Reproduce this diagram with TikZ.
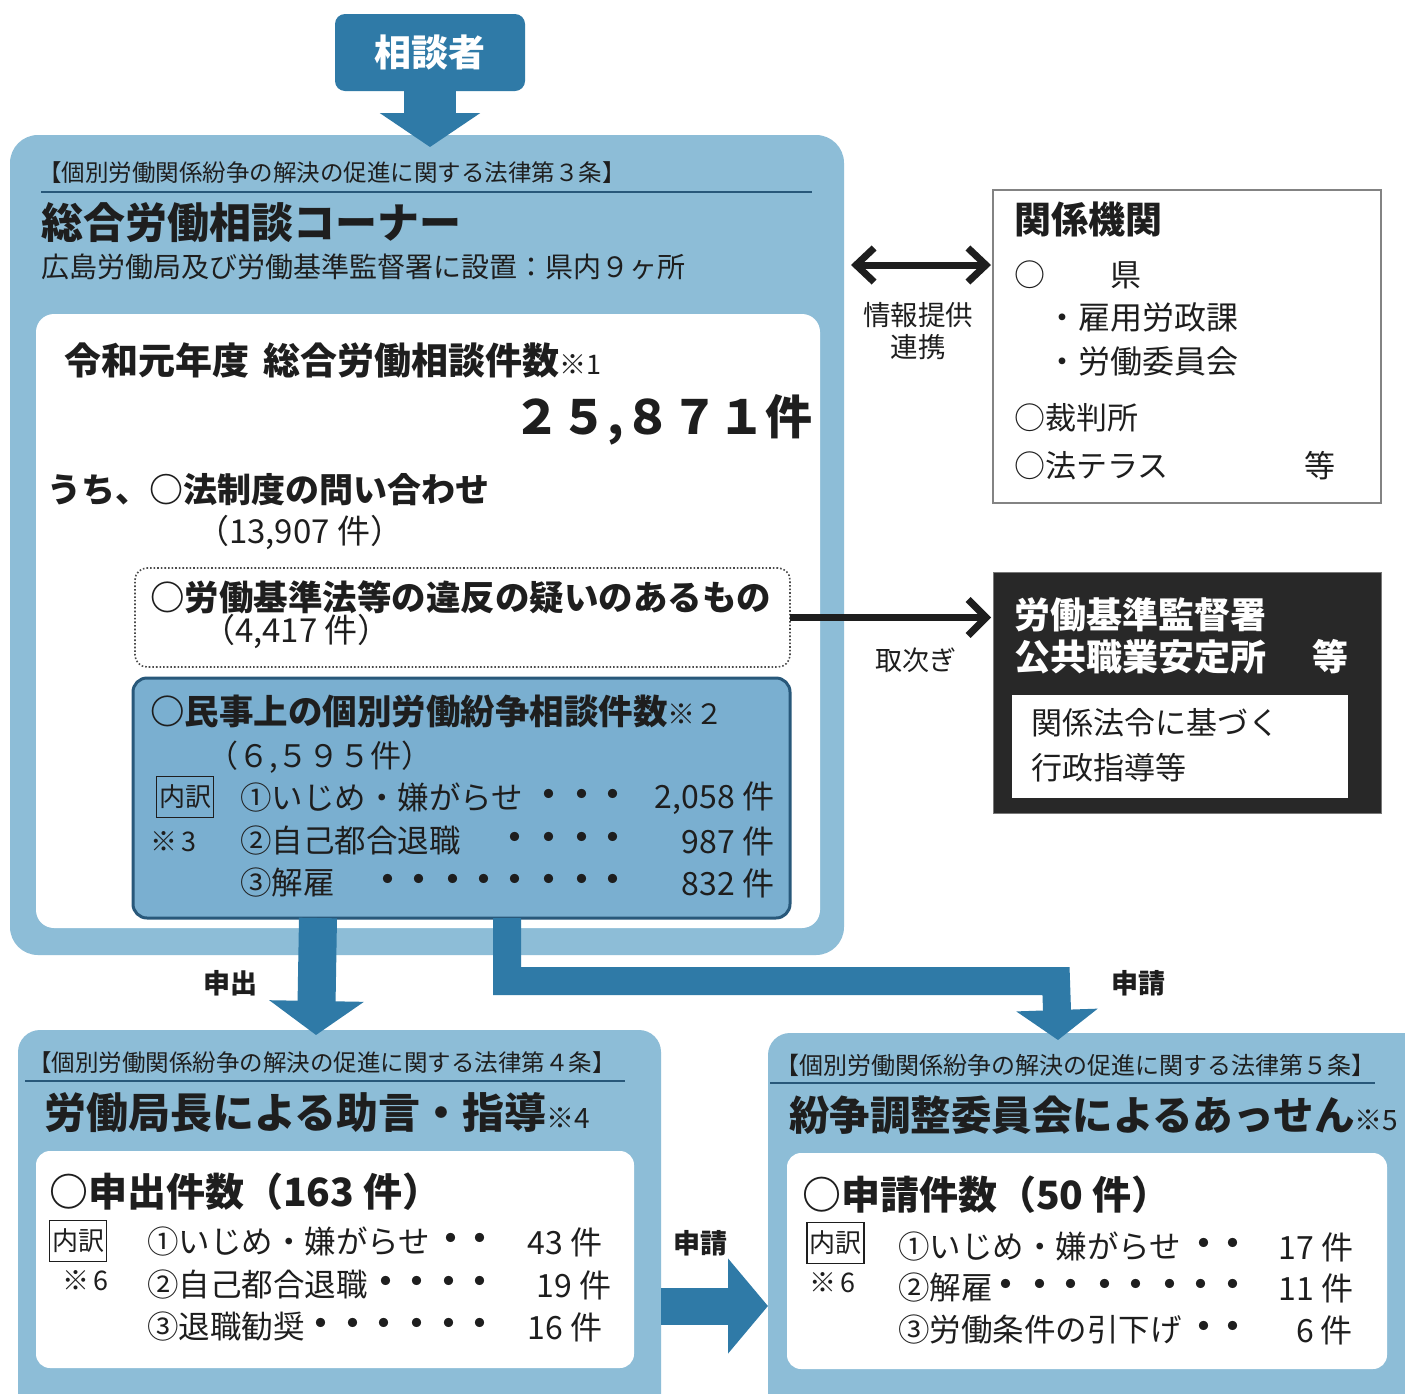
\documentclass[tikz,border=0pt]{standalone}
\usepackage{fontspec}
\setmainfont{Noto Sans CJK JP}
\usetikzlibrary{arrows.meta}
\definecolor{lblue}{RGB}{141,189,215}
\definecolor{dblue}{RGB}{47,122,167}
\definecolor{mblue}{RGB}{122,175,208}
\definecolor{mborder}{RGB}{40,88,122}
\definecolor{darkbg}{RGB}{40,40,40}
\definecolor{ink}{RGB}{30,30,30}
\newcommand\fsz[1]{\fontsize{#1}{#1}\selectfont}
\begin{document}
\begin{tikzpicture}[x=1pt,y=-1pt,
  shp/.style={inner sep=0pt, outer sep=0pt},
  tx/.style={inner sep=0pt, outer sep=0pt, anchor=west, text=ink},
  tr/.style={inner sep=0pt, outer sep=0pt, anchor=east, text=ink},
  tc/.style={inner sep=0pt, outer sep=0pt, text=ink},
  dotc/.style={inner sep=0pt, outer sep=0pt, text=ink, font={\fsz{33}\bfseries}},
  uw/.style={draw=ink, line width=1.2pt, inner sep=1pt, minimum width=57pt, minimum height=41pt, text=ink, font={\fsz{26}}},
  rule/.style={draw=mborder, line width=1.5pt},
  blockarrow/.style={draw=dblue},
  barb/.style={draw=ink, line width=7pt},
]
\useasboundingbox (0,0) rectangle (1405,1393);
\fill[white] (0,0) rectangle (1405,1393);
\clip (0,0) rectangle (1405,1393);

% ---------- top: 相談者 ----------
\node[shp, fill=dblue, rounded corners=10pt, minimum width=190pt, minimum height=77pt,
      text=white, font={\fsz{37}\bfseries}] (soudan) at (430,52.5) {相談者};

% ---------- main box ----------
\node[shp, fill=lblue, rounded corners=28pt, minimum width=834pt, minimum height=820pt] (main) at (427,545) {};
\draw[blockarrow, line width=52pt, -{Triangle[length=34pt,width=99pt]}] (soudan.south) -- (soudan.south |- 0,147);

\node[tx, font={\fsz{23.5}}] (law3) at (38,173) {【個別労働関係紛争の解決の促進に関する法律第３条】};
\draw[rule] (41,192) -- (812,192);
\node[tx, font={\fsz{42}\bfseries}] (corner) at (41,223) {総合労働相談コーナー};
\node[tx, font={\fsz{28}}] (place) at (41,267) {広島労働局及び労働基準監督署に設置：県内９ヶ所};

\node[shp, fill=white, rounded corners=18pt, minimum width=784pt, minimum height=614pt] (white1) at (428,621) {};
\node[tx, font={\fsz{37}\bfseries}] (year) at (64,360) {令和元年度\hspace{0.4em}総合労働相談件数{\mdseries\fsz{27}※1}};
\node[tr, font={\fsz{47}\bfseries}] (total) at (812,420) {２５,８７１件};
\node[tx, font={\fsz{34}\bfseries}] (uchi) at (47,490) {うち、○法制度の問い合わせ};
\node[tx, font={\fsz{33}}] (n1) at (196,532) {（13,907 件）};

\node[shp, fill=white, draw=ink!80, dotted, line width=1.6pt, rounded corners=12pt, minimum width=655pt, minimum height=99pt] (ihan) at (462.5,617.5) {};
\node[tx, font={\fsz{34.5}\bfseries}] (ihanT) at (150,597) {○労働基準法等の違反の疑いのあるもの};
\node[tx, font={\fsz{33}}] (ihanN) at (202,631) {（4,417 件）};

\node[shp, fill=mblue, draw=mborder, line width=3pt, rounded corners=14pt, minimum width=657pt, minimum height=240pt] (civil) at (461.5,798) {};
\node[tx, font={\fsz{34.5}\bfseries}] (civilT) at (150,711) {○民事上の個別労働紛争相談件数{\mdseries\fsz{28}※２}};
\node[tx, font={\fsz{31}}] (civilN) at (207,757) {（６,５９５件）};
\node[uw] (uw1) at (185,797) {内訳};
\node[tx, font={\fsz{27}}] (k3) at (150,842) {※\,3};
\node[tx, font={\fsz{31.5}}] (c1) at (240,798) {①いじめ・嫌がらせ};
\node[tx, font={\fsz{31.5}}] (c2) at (240,841) {②自己都合退職};
\node[tx, font={\fsz{31.5}}] (c3) at (240,883) {③解雇};
\foreach \x in {549,582,613} \node[dotc] at (\x,798) {・};
\foreach \x in {515,549,582,613} \node[dotc] at (\x,841) {・};
\foreach \x in {388,419,453,484,515,549,582,613} \node[dotc] at (\x,883) {・};
\node[tr, font={\fsz{32}}] (v1) at (774,798) {2,058 件};
\node[tr, font={\fsz{32}}] (v2) at (774,841) {987 件};
\node[tr, font={\fsz{32}}] (v3) at (774,883) {832 件};

% ---------- 関係機関 ----------
\node[shp, fill=white, draw=ink!55, line width=2pt, minimum width=388pt, minimum height=313pt] (kankei) at (1187,346.5) {};
\node[tx, font={\fsz{37}\bfseries}] (kkT) at (1014,219) {関係機関};
\node[tx, font={\fsz{31}}] (kk0) at (1014,275) {○};
\node[tx, font={\fsz{31}}] (kkken) at (1110,275) {県};
\node[tx, font={\fsz{32}}] (kk1) at (1046,317) {・雇用労政課};
\node[tx, font={\fsz{32}}] (kk2) at (1046,361) {・労働委員会};
\node[tx, font={\fsz{31}}] (kk3) at (1014,418) {○裁判所};
\node[tx, font={\fsz{31}}] (kk4) at (1014,466) {○法テラス};
\node[tx, font={\fsz{31}}] (kk5) at (1304,466) {等};

\draw[barb, shorten <=7pt, shorten >=2pt, {Straight Barb[length=18pt,width=34pt]}-{Straight Barb[length=18pt,width=34pt]}] (main.east |- 0,265) -- (kankei.west |- 0,265);
\node[tc, font={\fsz{27.5}}] (jt1) at (918,315) {情報提供};
\node[tc, font={\fsz{27.5}}] (jt2) at (918,347) {連携};

% ---------- 労働基準監督署 ----------
\node[shp, fill=darkbg, draw=ink!60, line width=1pt, minimum width=388pt, minimum height=241pt] (dark) at (1187,692.5) {};
\node[tx, font={\fsz{36}\bfseries}, text=white] (dk1) at (1014,615) {労働基準監督署};
\node[tx, font={\fsz{36}\bfseries}, text=white] (dk2) at (1014,657) {公共職業安定所};
\node[tx, font={\fsz{36}\bfseries}, text=white] (dk3) at (1312,657) {等};
\node[shp, fill=white, minimum width=336pt, minimum height=103pt] (darkin) at (1180,746.5) {};
\node[tx, font={\fsz{31}}] (di1) at (1031,723) {関係法令に基づく};
\node[tx, font={\fsz{31}}] (di2) at (1031,768) {行政指導等};

\draw[barb, shorten >=2pt, -{Straight Barb[length=18pt,width=36pt]}] (ihan.east) -- (dark.west |- ihan.east);
\node[tc, font={\fsz{27}}] (tori) at (916,660) {取次ぎ};

% ---------- bottom left ----------
\node[shp, fill=lblue, rounded corners=22pt, minimum width=643pt, minimum height=400pt] (bl) at (339.5,1230) {};
\node[tx, font={\fsz{23.5}}] (law4) at (28,1063) {【個別労働関係紛争の解決の促進に関する法律第４条】};
\draw[rule] (25,1081) -- (625,1081);
\node[tx, font={\fsz{42}\bfseries}] (jogen) at (44,1113) {労働局長による助言・指導{\mdseries\fsz{28}※4}};
\node[shp, fill=white, rounded corners=14pt, minimum width=598pt, minimum height=217pt] (blw) at (335,1259.5) {};
\node[tx, font={\fsz{39}\bfseries}] (mosh) at (49,1192) {○申出件数（163 件）};
\node[uw] (uw2) at (78,1241) {内訳};
\node[tx, font={\fsz{27}}] (k6a) at (62,1281) {※\,6};
\node[tx, font={\fsz{31.5}}] (b1) at (147,1242) {①いじめ・嫌がらせ};
\node[tx, font={\fsz{31.5}}] (b2) at (147,1285) {②自己都合退職};
\node[tx, font={\fsz{31.5}}] (b3) at (147,1327) {③退職勧奨};
\foreach \x in {451,480} \node[dotc] at (\x,1242) {・};
\foreach \x in {386,417,449,480} \node[dotc] at (\x,1285) {・};
\foreach \x in {321,353,384,417,449,480} \node[dotc] at (\x,1327) {・};
\node[tr, font={\fsz{32}}] (bv1) at (602,1242) {43 件};
\node[tr, font={\fsz{32}}] (bv2) at (611,1285) {19 件};
\node[tr, font={\fsz{32}}] (bv3) at (602,1327) {16 件};

% ---------- bottom right ----------
\node[shp, fill=lblue, rounded corners=22pt, minimum width=660pt, minimum height=400pt] (br) at (1098,1233) {};
\node[tx, font={\fsz{24}}] (law5) at (775,1065) {【個別労働関係紛争の解決の促進に関する法律第５条】};
\draw[rule] (770,1083) -- (1375,1083);
\node[tx, font={\fsz{40.5}\bfseries}] (assen) at (789,1115) {紛争調整委員会によるあっせん{\mdseries\fsz{28}※5}};
\node[shp, fill=white, rounded corners=14pt, minimum width=600pt, minimum height=216pt] (brw) at (1087,1261) {};
\node[tx, font={\fsz{39}\bfseries}] (shin) at (802,1195) {○申請件数（50 件）};
\node[uw] (uw3) at (835.5,1243) {内訳};
\node[tx, font={\fsz{27}}] (k6b) at (809,1283) {※\,6};
\node[tx, font={\fsz{31.5}}] (r1) at (898,1247) {①いじめ・嫌がらせ};
\node[tx, font={\fsz{31.5}}] (r2) at (898,1288) {②解雇};
\node[tx, font={\fsz{31.5}}] (r3) at (898,1330) {③労働条件の引下げ};
\foreach \x in {1204,1233} \node[dotc] at (\x,1247) {・};
\foreach \x in {1006,1040,1071,1105,1136,1170,1201,1233} \node[dotc] at (\x,1288) {・};
\foreach \x in {1204,1233} \node[dotc] at (\x,1330) {・};
\node[tr, font={\fsz{32}}] (rv1) at (1353,1247) {17 件};
\node[tr, font={\fsz{32}}] (rv2) at (1353,1288) {11 件};
\node[tr, font={\fsz{32}}] (rv3) at (1353,1330) {6 件};

% ---------- block arrows ----------
\draw[blockarrow, line width=38pt, -{Triangle[length=34pt,width=93pt]}] (civil.south -| 318,0) -- (316,1035);
\draw[blockarrow, line width=28pt, miter limit=10, -{Triangle[length=30pt,width=80pt]}] (civil.south -| 507,0) -- (507,981) -- (1056,981) -- (1058,1040);
\node[tc, font={\fsz{27}\bfseries}] (lbl1) at (230,983) {申出};
\node[tc, font={\fsz{27}\bfseries}] (lbl2) at (1138,983) {申請};
\draw[blockarrow, line width=37pt, -{Triangle[length=40pt,width=93pt]}] (bl.east |- 0,1306) -- (br.west |- 0,1306);
\node[tc, font={\fsz{27}\bfseries}] (lbl3) at (700,1243) {申請};
\end{tikzpicture}
\end{document}
